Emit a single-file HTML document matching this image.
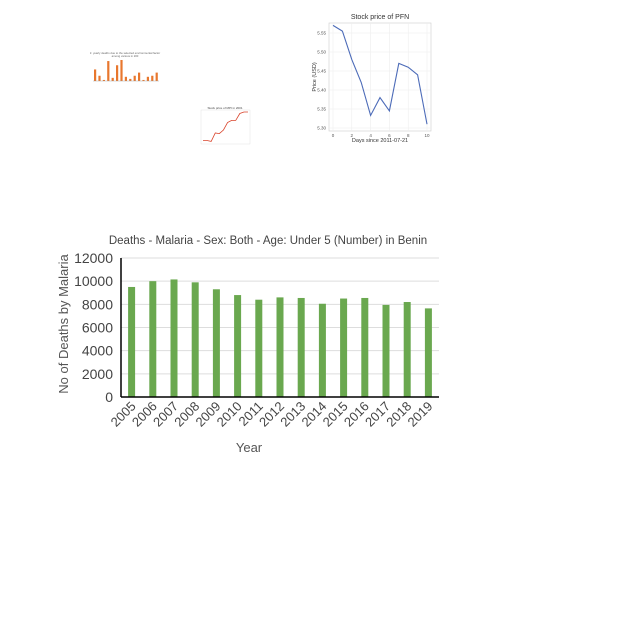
<!DOCTYPE html>
<html><head><meta charset="utf-8"><style>
body{margin:0;background:#fff;}
svg{display:block;font-family:"Liberation Sans",Arial,sans-serif;}
</style></head><body>
<svg id="c" width="640" height="640"></svg>
<script>
const years=["2005","2006","2007","2008","2009","2010","2011","2012","2013","2014","2015","2016","2017","2018","2019"];
const deaths=[9500,10000,10150,9900,9300,8800,8400,8600,8550,8050,8500,8550,7950,8200,7650];
const yTicks=[0,2000,4000,6000,8000,10000,12000];
const pfnDays=[0,1,2,3,4,5,6,7,8,9,10];
const pfnPrice=[5.57,5.555,5.48,5.42,5.333,5.38,5.345,5.47,5.46,5.44,5.31];
const pfnYTicks=[5.30,5.35,5.40,5.45,5.50,5.55];
const pfnXTicks=[0,2,4,6,8,10];
const orangeVals=[0.55,0.25,0.05,0.95,0.15,0.75,1.0,0.2,0.1,0.25,0.4,0.05,0.2,0.25,0.4];
const redVals=[0.05,0.05,0.02,0.3,0.28,0.4,0.65,0.72,0.72,0.95,1.0,1.0];

const svg=document.getElementById('c');
const NS='http://www.w3.org/2000/svg';
function mk(t,a,txt){const e=document.createElementNS(NS,t);for(const k in a)e.setAttribute(k,a[k]);if(txt!==undefined)e.textContent=txt;svg.appendChild(e);return e;}

// Main chart
const L=121,R=439,T=258,B=397;
const band=(R-L)/years.length;
const xm=i=>L+band*(i+0.5);
const ym=v=>B-(v/12000)*(B-T);
let e;
e=mk('text',{x:268,y:244,'text-anchor':'middle','font-size':11.5,fill:'#444'},'Deaths - Malaria - Sex: Both - Age: Under 5 (Number) in Benin');

yTicks.forEach(v=>{
 if(v>0){e=mk('line',{x1:L,x2:R,y1:ym(v),y2:ym(v),stroke:'#ddd'});
 }
 e=mk('text',{x:L-8,y:ym(v)+5,'text-anchor':'end','font-size':14,fill:'#444'},String(v));
 
});
deaths.forEach((v,i)=>{
 e=mk('rect',{x:xm(i)-3.5,y:ym(v),width:7,height:B-ym(v),fill:'#6aa84f'});
 
 e=mk('text',{x:xm(i)+5,y:B+10,'text-anchor':'end','font-size':13,fill:'#444',transform:`rotate(-45 ${xm(i)+5} ${B+10})`},years[i]);
 
});
e=mk('line',{x1:L,x2:R,y1:B,y2:B,stroke:'#000','stroke-width':1.5});

e=mk('line',{x1:L,x2:L,y1:T,y2:B,stroke:'#000','stroke-width':1.5});

e=mk('text',{x:249,y:452,'text-anchor':'middle','font-size':13,fill:'#555'},'Year');

e=mk('text',{x:68,y:324,'text-anchor':'middle','font-size':13,fill:'#555',transform:'rotate(-90 68 324)'},'No of Deaths by Malaria');


// PFN chart
const pL=329,pR=431,pT=23,pB=131;
const px=d=>333+(d/10)*94;
const py=v=>128-((v-5.30)/0.25)*95;
e=mk('rect',{x:pL,y:pT,width:pR-pL,height:pB-pT,fill:'none',stroke:'#ccc','stroke-width':0.6});

pfnYTicks.forEach(v=>{
 e=mk('line',{x1:pL,x2:pR,y1:py(v),y2:py(v),stroke:'#eee','stroke-width':0.6});
 
 e=mk('text',{x:pL-3,y:py(v)+1.5,'text-anchor':'end','font-size':4.5,fill:'#555'},v.toFixed(2));
 
});
pfnXTicks.forEach(d=>{
 e=mk('line',{x1:px(d),x2:px(d),y1:pT,y2:pB,stroke:'#eee','stroke-width':0.6});
 
 e=mk('text',{x:px(d),y:pB+6,'text-anchor':'middle','font-size':4.5,fill:'#555'},String(d));
 
});
e=mk('polyline',{points:pfnDays.map((d,i)=>px(d)+','+py(pfnPrice[i])).join(' '),fill:'none',stroke:'#4c6bb8','stroke-width':1.1});

e=mk('text',{x:380,y:19,'text-anchor':'middle','font-size':7,fill:'#333'},'Stock price of PFN');

e=mk('text',{x:380,y:142,'text-anchor':'middle','font-size':5.5,fill:'#333'},'Days since 2011-07-21');

e=mk('text',{x:316,y:77,'text-anchor':'middle','font-size':5.5,fill:'#333',transform:'rotate(-90 316 77)'},'Price (USD)');


// Small orange bar chart
const oL=93,oR=159,oT=60,oB=81;
const ob=(oR-oL)/orangeVals.length;
e=mk('text',{x:125,y:54,'text-anchor':'middle','font-size':2.8,fill:'#666'},'Ir. yearly deaths due to the selected environmental factor');

e=mk('text',{x:125,y:57,'text-anchor':'middle','font-size':2.8,fill:'#666'},'among various in 200');

orangeVals.forEach((v,i)=>{
 e=mk('rect',{x:oL+ob*i+1,y:oB-v*(oB-oT),width:ob*0.5,height:v*(oB-oT),fill:'#e8772e'});
 
});
e=mk('line',{x1:oL,x2:oR,y1:oB,y2:oB,stroke:'#999','stroke-width':0.4});


// Small red line chart
const rL=203,rR=248,rT=112,rB=142;
e=mk('rect',{x:rL-2,y:rT-2,width:rR-rL+4,height:rB-rT+4,fill:'none',stroke:'#ddd','stroke-width':0.4});

e=mk('text',{x:225,y:109,'text-anchor':'middle','font-size':3,fill:'#444'},'Stock price of MPI in 2001');

e=mk('polyline',{points:redVals.map((v,i)=>(rL+i*(rR-rL)/(redVals.length-1))+','+(rB-v*(rB-rT))).join(' '),fill:'none',stroke:'#d9432b','stroke-width':0.8});

</script>
</body></html>
